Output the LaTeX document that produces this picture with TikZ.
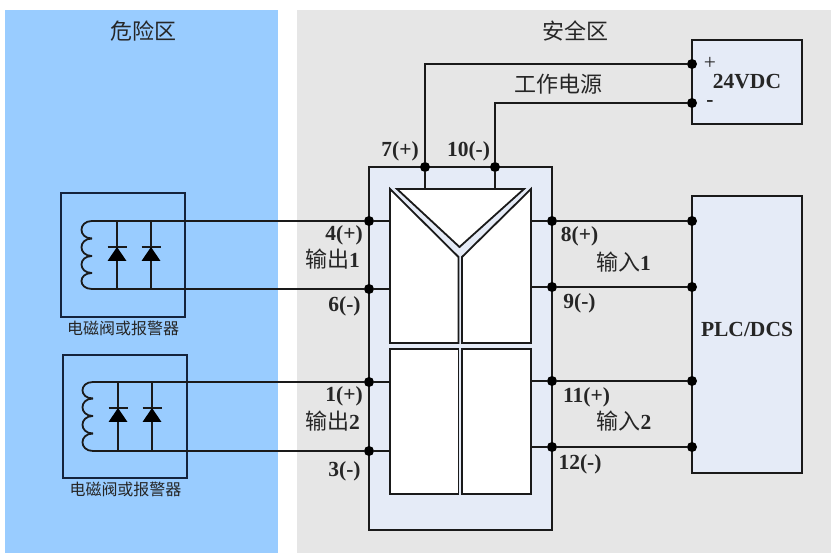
\documentclass[tikz,border=0pt]{standalone}
\usepackage{fontspec}
\setmainfont{Liberation Serif}
\newfontfamily\cjk{Noto Sans CJK SC}
\definecolor{zoneblue}{HTML}{99CCFF}
\definecolor{zonegray}{HTML}{E6E6E6}
\definecolor{boxblue}{HTML}{E5EBF7}
\definecolor{linedark}{HTML}{1A1A1A}
\definecolor{linenavy}{HTML}{14233C}
\definecolor{textdark}{HTML}{262626}
\newcommand{\bigcjk}[1]{{\fontsize{22}{24}\selectfont\mdseries\cjk #1}}
\newcommand{\smallcjk}[1]{{\fontsize{16}{18}\selectfont\mdseries\cjk #1}}
\newcommand{\pinfont}{\fontsize{21.5}{24}\selectfont\bfseries}

\begin{document}
\begin{tikzpicture}
[
	x=1pt,y=-1pt,
	zone/.style={rectangle,inner sep=0,outer sep=0},
	sq/.style={rectangle,draw=linedark,line width=1.8,inner sep=0},
	loadbox/.style={rectangle,draw=linenavy,line width=1.8,inner sep=0},
	panel/.style={draw=linedark,line width=1.8,fill=white,line join=miter},
	wire/.style={draw=linedark,line width=1.8},
	dot/.style={circle,fill=black,inner sep=0,minimum size=10},
	lbl/.style={inner sep=0,text=textdark,font=\pinfont}
]
\useasboundingbox (0,0) rectangle (831,553);

\node[zone,fill=zoneblue,minimum width=273,minimum height=543] (danger) at (141.5,281.5) {};
\node[zone,fill=zonegray,minimum width=534.5,minimum height=543] (safe) at (563.75,281.5) {};

\node[inner sep=0,text=textdark] (dangerlbl) at (143,31) {\bigcjk{危险区}};
\node[inner sep=0,text=textdark] (safelbl) at (575.5,31) {\bigcjk{安全区}};

\node[sq,fill=boxblue,minimum width=183,minimum height=363] (module) at (460.5,348.5) {};
\node[sq,fill=boxblue,minimum width=110,minimum height=84] (power) at (747,82) {};
\node[sq,fill=boxblue,minimum width=110,minimum height=277] (plc) at (747,334.5) {};
\node[loadbox,minimum width=124,minimum height=124] (load1) at (123,255) {};
\node[loadbox,minimum width=124,minimum height=123] (load2) at (125,416.5) {};

\node[lbl] (vdc) at (747,82) {24VDC};
\node[lbl,text=textdark] (plus) at (710,63) {\normalfont\fontsize{21.5}{24}\selectfont +};
\node[lbl] (minus) at (710,104) {-};
\node[lbl] (plclbl) at (747,329) {PLC/DCS};
\node[inner sep=0,text=textdark] (worklbl) at (558,84) {\bigcjk{工作电源}};

\node[panel,rectangle,inner sep=0,minimum width=68.5,minimum height=145] (p3) at (424.25,421.5) {};
\node[panel,rectangle,inner sep=0,minimum width=69,minimum height=145] (p4) at (496.5,421.5) {};
\draw[panel] (390,189) -- (458.5,257) -- (458.5,343) -- (390,343) -- cycle;
\draw[panel] (531,189) -- (462,257) -- (462,343) -- (531,343) -- cycle;
\draw[panel] (397,189) -- (524,189) -- (459.5,247) -- cycle;

\node[dot] (t7) at (425,167) {};
\node[dot] (t10) at (495,167) {};
\node[dot] (l4) at (369,221) {};
\node[dot] (l6) at (369,289) {};
\node[dot] (l1) at (369,382) {};
\node[dot] (l3) at (369,451) {};
\node[dot] (r8) at (552,221) {};
\node[dot] (r9) at (552,287) {};
\node[dot] (r11) at (552,381) {};
\node[dot] (r12) at (552,447) {};
\node[dot] (ppos) at (692,64) {};
\node[dot] (pneg) at (692,103) {};
\node[dot] (c8) at (692,221) {};
\node[dot] (c9) at (692,287) {};
\node[dot] (c11) at (692,381) {};
\node[dot] (c12) at (692,447) {};

\coordinate (tri7) at (425,189);
\coordinate (tri10) at (495,189);
\coordinate (in4) at (390,221);
\coordinate (in6) at (390,289);
\coordinate (in1) at (390,382);
\coordinate (in3) at (390,451);
\coordinate (in8) at (531,221);
\coordinate (in9) at (531,287);
\coordinate (in11) at (531,381);
\coordinate (in12) at (531,447);

\coordinate (coil1a) at (92,221);
\coordinate (coil1b) at (92,238.5);
\coordinate (coil1c) at (92,256);
\coordinate (coil1d) at (92,273);
\coordinate (coil1e) at (92,289);
\coordinate (coil2a) at (93,382);
\coordinate (coil2b) at (93,398.5);
\coordinate (coil2c) at (93,416);
\coordinate (coil2d) at (93,433.5);
\coordinate (coil2e) at (93,451);

\draw[wire] (t7) -- (425,64) -- (ppos);
\draw[wire] (t10) -- (495,103) -- (pneg);
\draw[wire] (t7) -- (tri7);
\draw[wire] (t10) -- (tri10);

\draw[wire] (coil1a) -- (l4);
\draw[wire] (coil1e) -- (l6);
\draw[wire] (coil2a) -- (l1);
\draw[wire] (coil2e) -- (l3);
\draw[wire] (l4) -- (in4);
\draw[wire] (l6) -- (in6);
\draw[wire] (l1) -- (in1);
\draw[wire] (l3) -- (in3);
\draw[wire] (in8) -- (r8);
\draw[wire] (in9) -- (r9);
\draw[wire] (in11) -- (r11);
\draw[wire] (in12) -- (r12);
\draw[wire] (r8) -- (c8);
\draw[wire] (r9) -- (c9);
\draw[wire] (r11) -- (c11);
\draw[wire] (r12) -- (c12);

\draw[wire] (coil1a) .. controls (78,221) and (78,238.5) .. (coil1b);
\draw[wire] (coil1b) .. controls (78,238.5) and (78,256) .. (coil1c);
\draw[wire] (coil1c) .. controls (78,256) and (78,273) .. (coil1d);
\draw[wire] (coil1d) .. controls (78,273) and (78,289) .. (coil1e);
\draw[wire] (coil2a) .. controls (79,382) and (79,398.5) .. (coil2b);
\draw[wire] (coil2b) .. controls (79,398.5) and (79,416) .. (coil2c);
\draw[wire] (coil2c) .. controls (79,416) and (79,433.5) .. (coil2d);
\draw[wire] (coil2d) .. controls (79,433.5) and (79,451) .. (coil2e);

\draw[wire] (117,221) -- (117,289);
\draw[wire] (151,221) -- (151,289);
\draw[wire] (118,382) -- (118,451);
\draw[wire] (152,382) -- (152,451);

\draw[wire] (107.5,247) -- (126.5,247);
\fill[black] (117,247) -- (107.5,261) -- (126.5,261) -- cycle;
\draw[wire] (141.5,247) -- (160.5,247);
\fill[black] (151,247) -- (141.5,261) -- (160.5,261) -- cycle;
\draw[wire] (108.5,408) -- (127.5,408);
\fill[black] (118,408) -- (108.5,422) -- (127.5,422) -- cycle;
\draw[wire] (142.5,408) -- (161.5,408);
\fill[black] (152,408) -- (142.5,422) -- (161.5,422) -- cycle;

\node[inner sep=0,text=textdark] (load1lbl) at (123,328) {\smallcjk{电磁阀或报警器}};
\node[inner sep=0,text=textdark] (load2lbl) at (125.5,489) {\smallcjk{电磁阀或报警器}};

\node[lbl] (lbl7) at (400,151) {7(+)};
\node[lbl] (lbl10) at (468.5,151) {10(-)};
\node[lbl] (lbl4) at (344,235) {4(+)};
\node[lbl] (lbl6) at (344.5,306) {6(-)};
\node[lbl] (lbl1) at (344,396) {1(+)};
\node[lbl] (lbl3) at (344.5,471) {3(-)};
\node[lbl] (lbl8) at (579.5,236) {8(+)};
\node[lbl] (lbl9) at (579.5,303) {9(-)};
\node[lbl] (lbl11) at (586.5,397) {11(+)};
\node[lbl] (lbl12) at (580,464) {12(-)};

\node[lbl] (out1) at (332.5,259) {\bigcjk{输出}1};
\node[lbl] (out2) at (332.5,421) {\bigcjk{输出}2};
\node[lbl] (in1lbl) at (623.5,262) {\bigcjk{输入}1};
\node[lbl] (in2lbl) at (624,421) {\bigcjk{输入}2};

\end{tikzpicture}
\end{document}
